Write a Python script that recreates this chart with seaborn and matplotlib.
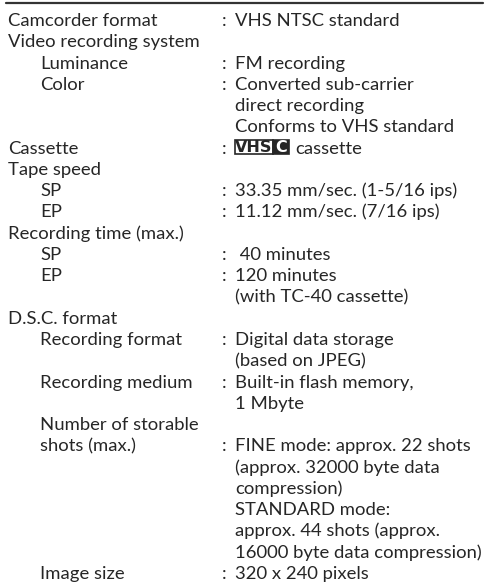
import matplotlib
matplotlib.use("Agg")
import matplotlib.pyplot as plt
import matplotlib.patches as mpatches
import seaborn as sns

# ---- data (text content of the specification table) ----
labels = [
    ["Camcorder format"],
    ["Video recording system"],
    ["Luminance"],
    ["Color"],
    ["Cassette"],
    ["Tape speed"],
    ["SP"],
    ["EP"],
    ["Recording time (max.)"],
    ["SP"],
    ["EP"],
    ["D.S.C. format"],
    ["Recording format"],
    ["Recording medium"],
    ["Number of storable", "shots (max.)"],
    ["Image size"],
]
levels = [0, 0, 1, 1, 0, 0, 1, 1, 0, 1, 1, 0, 1, 1, 1, 1]
values = [
    ["VHS NTSC standard"],
    [],
    ["FM recording"],
    ["Converted sub-carrier", "direct recording", "Conforms to VHS standard"],
    ["@VHSC cassette"],
    [],
    ["33.35 mm/sec. (1-5/16 ips)"],
    ["11.12 mm/sec. (7/16 ips)"],
    [],
    [" 40 minutes"],
    ["120 minutes", "(with TC-40 cassette)"],
    [],
    ["Digital data storage", "(based on JPEG)"],
    ["Built-in flash memory,", "1 Mbyte"],
    ["FINE mode: approx. 22 shots", "(approx. 32000 byte data", "compression)",
     "STANDARD mode:", "approx. 44 shots (approx.", "16000 byte data compression)"],
    ["320 x 240 pixels"],
]

sns.set_theme(style="white")
plt.rcParams["font.family"] = ["Lato", "DejaVu Sans"]

W, H = 486, 584
fig = plt.figure(figsize=(W / 100, H / 100), dpi=100)
ax = fig.add_axes([0, 0, 1, 1])
ax.set_xlim(0, W)
ax.set_ylim(H, 0)
ax.axis("off")

TXT = "#262626"
FS = 13.3
X0, X1, XC, XV = 8, 40, 222, 235
BASE0, STEP = 26.0, 21.27

# top rule
sns.lineplot(x=[6, 483], y=[3, 3], ax=ax, color="#333333", linewidth=1.6)

line = 0
for lab, lev, vals in zip(labels, levels, values):
    xl = X0 if lev == 0 else X1
    for i, t in enumerate(lab):
        ax.text(xl, BASE0 + (line + i) * STEP, t, fontsize=FS, color=TXT,
                va="baseline", ha="left")
    vline = line + len(lab) - 1
    if vals:
        ax.text(XC, BASE0 + vline * STEP, ":", fontsize=FS, color=TXT,
                va="baseline", ha="left")
    for j, v in enumerate(vals):
        y = BASE0 + (vline + j) * STEP
        if v.startswith("@VHSC"):
            # VHS-C logo: outlined "VHS" + filled "C"
            top, bot = y - 14, y
            ax.add_patch(mpatches.Rectangle((XV, top), 38, bot - top, fill=False,
                                            edgecolor=TXT, linewidth=1.2))
            ax.add_patch(mpatches.Rectangle((XV + 38, top), 16, bot - top,
                                            facecolor=TXT, edgecolor=TXT, linewidth=1.2))
            ax.text(XV + 19, (top + bot) / 2 + 0.5, "VHS", fontsize=11.5, fontweight="bold",
                    color=TXT, ha="center", va="center", family="DejaVu Sans Condensed")
            ax.text(XV + 46, (top + bot) / 2 + 0.5, "C", fontsize=11.5, fontweight="bold",
                    color="white", ha="center", va="center", family="DejaVu Sans Condensed")
            ax.text(XV + 60, y, v[len("@VHSC "):], fontsize=FS, color=TXT,
                    va="baseline", ha="left")
        else:
            ax.text(XV, y, v, fontsize=FS, color=TXT, va="baseline", ha="left")
    line = vline + max(len(vals), 1)

fig.savefig("out.png", dpi=100)
